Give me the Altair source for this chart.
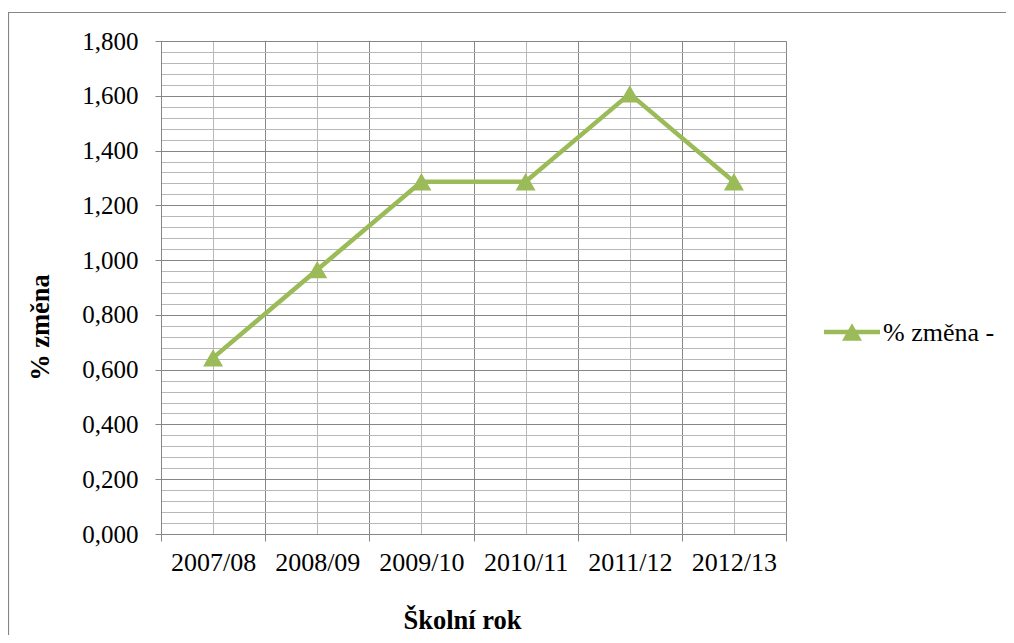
import altair as alt
import pandas as pd

categories = ["2007/08", "2008/09", "2009/10", "2010/11", "2011/12", "2012/13"]
values = [0.643, 0.965, 1.286, 1.286, 1.607, 1.286]
series_name = "% změna -"

positions = [i + 0.5 for i in range(len(categories))]
df = pd.DataFrame({"pos": positions, "val": values, "cat": categories})

x_ticks = [i * 0.5 for i in range(2 * len(categories) + 1)]
y_ticks = [round(i * 0.04, 2) for i in range(46)]

FONT = "Liberation Serif"
GREEN = "#9BBB59"
DARK = "#868686"
LIGHT = "#B8B8B8"

cat_array = "[" + ",".join("'" + c + "'" for c in categories) + "]"

x_axis = alt.Axis(
    values=x_ticks,
    labelExpr=f"(datum.value % 1) > 0.25 ? {cat_array}[floor(datum.value)] : ''",
    grid=True,
    gridColor={"condition": {"test": "(datum.value % 1) < 0.25", "value": DARK}, "value": LIGHT},
    gridWidth=1,
    tickColor={"condition": {"test": "(datum.value % 1) < 0.25", "value": DARK}, "value": "transparent"},
    tickSize=7,
    domainColor=DARK,
    domainWidth=1,
    labelFont=FONT,
    labelFontSize=26,
    labelColor="black",
    labelPadding=8,
    labelOverlap=False,
    labelFlush=False,
    title="Školní rok",
    titleFont=FONT,
    titleFontSize=26.5,
    titleFontWeight="bold",
    titleColor="black",
    titleX=301,
    titleY=94,
    titleBaseline="alphabetic",
    titleAlign="center",
)

major_test = "abs(datum.value*5 - round(datum.value*5)) < 0.001"
y_axis = alt.Axis(
    values=y_ticks,
    labelExpr=f"{major_test} ? replace(format(datum.value, '.3f'), '.', ',') : ''",
    grid=True,
    gridColor={"condition": {"test": major_test, "value": DARK}, "value": LIGHT},
    gridWidth=1,
    tickColor={"condition": {"test": major_test, "value": DARK}, "value": "transparent"},
    tickSize=6,
    domainColor=DARK,
    domainWidth=1,
    labelFont=FONT,
    labelFontSize=25,
    labelColor="black",
    labelPadding=17,
    labelOverlap=False,
    labelFlush=False,
    title="% změna",
    titleFont=FONT,
    titleFontSize=26.5,
    titleFontWeight="bold",
    titleColor="black",
    titleX=-121,
    titleY=286,
    titleBaseline="middle",
    titleAlign="center",
    titleAngle=270,
)

x_enc = alt.X("pos:Q", scale=alt.Scale(domain=[0, 6], nice=False, zero=False), axis=x_axis)
y_enc = alt.Y("val:Q", scale=alt.Scale(domain=[0, 1.8], nice=False), axis=y_axis)

line = alt.Chart(df).mark_line(strokeWidth=4.5, color=GREEN).encode(x=x_enc, y=y_enc)
points = alt.Chart(df).mark_point(shape="triangle-up", size=400, filled=True, opacity=1, color=GREEN).encode(
    x=x_enc, y=y_enc
)

# legend (manual, drawn in pixel space)
leg_data = alt.Data(values=[{"label": series_name}])
leg_line = alt.Chart(leg_data).mark_rule(strokeWidth=4.5, color=GREEN).encode(
    x=alt.value(663), x2=alt.value(719), y=alt.value(291)
)
leg_point = alt.Chart(leg_data).mark_point(shape="triangle-up", size=400, filled=True, opacity=1, color=GREEN).encode(
    x=alt.value(691), y=alt.value(291)
)
leg_text = alt.Chart(leg_data).mark_text(
    font=FONT, fontSize=26, color="black", align="left", baseline="middle"
).encode(x=alt.value(722), y=alt.value(292), text="label:N")

frame = alt.Chart(alt.Data(values=[{"a": 1}])).mark_rect(fill=None, stroke=DARK, strokeWidth=1.2).encode(
    x=alt.value(-152.5), x2=alt.value(950), y=alt.value(-28.5), y2=alt.value(700)
)

chart = alt.layer(frame, line, points, leg_line, leg_point, leg_text).properties(
    width=625,
    height=493,
    autosize=alt.AutoSizeParams(type="none"),
    padding={"left": 153, "top": 33, "right": 220, "bottom": 101},
).configure_view(stroke=None).configure(background="white", font=FONT)

chart.save("out.html", embed_options={"renderer": "svg", "actions": False})
